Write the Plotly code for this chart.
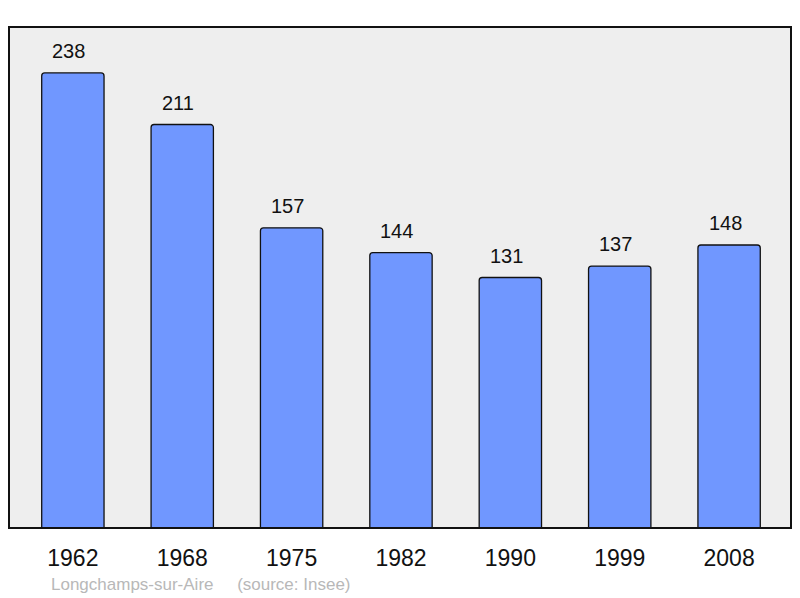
import plotly.graph_objects as go

years = ["1962", "1968", "1975", "1982", "1990", "1999", "2008"]
population = [238, 211, 157, 144, 131, 137, 148]
positions = list(range(len(years)))

fig = go.Figure()
fig.add_trace(go.Bar(
    x=positions, y=population, width=0.57,
    marker=dict(color="#7097ff", line=dict(color="#111111", width=1.3)),
    hoverinfo="skip",
))

for xp, v in zip(positions, population):
    fig.add_annotation(x=xp, y=v, text=str(v), showarrow=False,
                       yanchor="middle", yshift=22, xshift=-4,
                       font=dict(size=20, color="#111111"))

# source line under the axis
fig.add_annotation(xref="paper", yref="paper", x=0.051, y=-0.112,
                   xanchor="left", yanchor="middle", showarrow=False,
                   text="Longchamps-sur-Aire&nbsp;&nbsp;&nbsp;&nbsp;&nbsp;(source: Insee)",
                   font=dict(size=17, color="#b8b8b8"))

fig.add_shape(type="rect", xref="paper", yref="paper", x0=0, x1=1, y0=0, y1=1,
              line=dict(color="#111111", width=2), layer="above")

# page body has an 8px margin, so the figure is shrunk and the margins shifted
fig.update_layout(
    width=792, height=590,
    margin=dict(l=1, r=9, t=19, b=70),
    paper_bgcolor="white", plot_bgcolor="#eeeeee",
    font=dict(family="Liberation Sans, Arial, sans-serif", color="#111111"),
    showlegend=False, barcornerradius=3,
    xaxis=dict(range=[-0.584, 6.566], tickvals=positions, ticktext=years,
               showgrid=False, zeroline=False, ticks="outside", ticklen=9,
               tickcolor="rgba(0,0,0,0)", tickfont=dict(size=23)),
    yaxis=dict(range=[0, 262], showgrid=False, zeroline=False,
               showticklabels=False),
)

fig.write_html("out.html")
